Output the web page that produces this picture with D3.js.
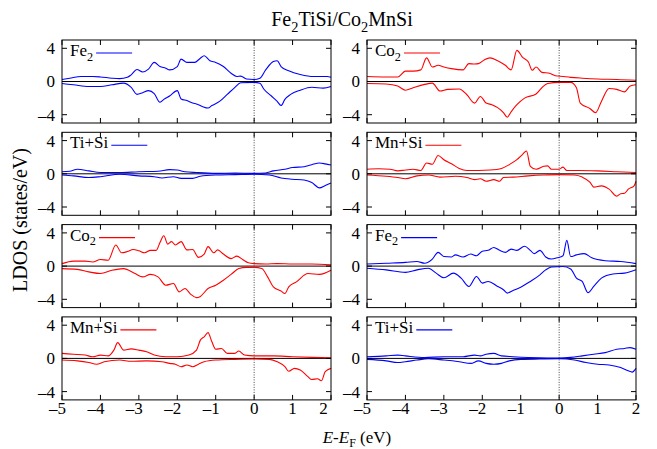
<!DOCTYPE html>
<html><head><meta charset="utf-8">
<script src="https://cdn.jsdelivr.net/npm/d3@7"></script>
<style>body{margin:0;background:#fff}svg{display:block}</style>
</head><body><svg id="c" width="657" height="449" font-family="'Liberation Serif','Times New Roman',Times,serif"></svg>
<script>
// ---------- data (energy in eV, LDOS in states/eV) ----------
const xTicks = [-5,-4,-3,-2,-1,0,1,2];
const yTicks = [-4,0,4];

// Left column: Fe2TiSi side
const fe2L_up = [[-5,0.25],[-4.8,0.4],[-4.5,0.6],[-4.2,0.6],[-4.0,0.55],[-3.7,0.4],[-3.5,0.35],[-3.3,0.5],[-3.2,0.8],[-3.05,1.45],[-2.9,1.15],[-2.75,1.5],[-2.6,2.3],[-2.45,1.8],[-2.3,1.6],[-2.2,1.4],[-2.0,1.8],[-1.9,2.7],[-1.75,2.3],[-1.55,2.3],[-1.4,2.8],[-1.3,3.1],[-1.15,2.5],[-1.0,2.3],[-0.8,1.8],[-0.6,1.0],[-0.45,0.6],[-0.35,0.65],[-0.2,0.3],[0,0.25],[0.15,0.4],[0.3,1.4],[0.5,2.4],[0.6,2.5],[0.7,1.8],[0.9,1.3],[1.2,0.85],[1.55,0.6],[1.9,0.6],[2.0,0.5]];
const fe2L_dn = [[-5,-0.25],[-4.7,-0.4],[-4.3,-0.6],[-4.0,-0.6],[-3.7,-0.4],[-3.4,-0.2],[-3.2,-0.7],[-3.05,-1.55],[-2.9,-1.35],[-2.75,-1.1],[-2.6,-1.45],[-2.45,-2.5],[-2.35,-2.15],[-2.2,-1.75],[-2.0,-1.1],[-1.9,-2.1],[-1.75,-2.3],[-1.6,-2.6],[-1.5,-2.7],[-1.35,-3.0],[-1.2,-3.2],[-1.1,-2.9],[-0.9,-2.4],[-0.7,-1.55],[-0.5,-0.7],[-0.35,-0.15],[0,-0.1],[0.15,-0.2],[0.25,-0.9],[0.45,-1.75],[0.6,-2.4],[0.7,-2.9],[0.8,-2.15],[0.95,-1.55],[1.2,-1.05],[1.5,-0.7],[1.8,-0.8],[2.0,-0.6]];

const tisiL_up = [[-5,0.25],[-4.8,0.3],[-4.6,0.55],[-4.3,0.35],[-4.0,0.15],[-3.5,0.15],[-3.0,0.25],[-2.5,0.3],[-2.2,0.5],[-2.0,0.45],[-1.8,0.25],[-1.5,0.15],[-1.0,0.05],[-0.5,0.1],[0,0.05],[0.3,0.1],[0.5,0.35],[0.8,0.55],[1.0,0.75],[1.3,0.85],[1.5,1.1],[1.7,1.3],[1.85,1.2],[2.0,1.05]];
const tisiL_dn = [[-5,-0.15],[-4.7,-0.25],[-4.3,-0.45],[-4.0,-0.35],[-3.5,-0.05],[-3.0,-0.25],[-2.6,-0.35],[-2.4,-0.5],[-2.1,-0.35],[-1.9,-0.55],[-1.6,-0.55],[-1.4,-0.3],[-1.0,-0.15],[-0.5,-0.1],[0,-0.05],[0.4,-0.15],[0.7,-0.5],[1.0,-0.65],[1.3,-0.75],[1.5,-1.05],[1.7,-1.7],[1.85,-1.4],[2.0,-1.1]];

const co2L_up = [[-5,0.3],[-4.7,0.6],[-4.4,0.6],[-4.2,0.5],[-4.0,0.8],[-3.8,0.7],[-3.6,2.55],[-3.45,1.6],[-3.3,1.75],[-3.15,2.0],[-3.0,1.85],[-2.85,1.6],[-2.7,1.9],[-2.55,1.9],[-2.45,2.85],[-2.35,3.65],[-2.25,2.65],[-2.15,2.95],[-2.05,2.55],[-1.9,2.95],[-1.75,1.95],[-1.6,2.0],[-1.45,1.05],[-1.3,1.45],[-1.2,2.35],[-1.05,1.6],[-0.95,1.95],[-0.8,1.45],[-0.6,0.9],[-0.45,1.2],[-0.3,0.8],[-0.15,0.4],[0,0.3],[0.3,0.25],[0.6,0.3],[1.0,0.25],[1.5,0.25],[2.0,0.15]];
const co2L_dn = [[-5,-0.3],[-4.6,-0.4],[-4.3,-0.7],[-4.0,-0.9],[-3.7,-0.5],[-3.4,-0.3],[-3.1,-0.9],[-2.9,-1.3],[-2.7,-1.0],[-2.5,-1.3],[-2.3,-2.3],[-2.1,-2.1],[-1.95,-3.1],[-1.8,-2.7],[-1.65,-3.4],[-1.5,-3.8],[-1.4,-3.65],[-1.2,-2.7],[-1.0,-2.3],[-0.8,-1.7],[-0.6,-1.0],[-0.4,-0.3],[-0.2,-0.15],[0,-0.15],[0.2,-0.3],[0.35,-1.3],[0.5,-2.5],[0.7,-3.0],[0.8,-3.3],[0.9,-2.5],[1.1,-1.9],[1.4,-0.9],[1.7,-1.0],[2.0,-0.5]];

const mnsiL_up = [[-5,0.6],[-4.7,0.5],[-4.4,0.4],[-4.2,0.2],[-4.0,0.4],[-3.8,0.3],[-3.65,1.0],[-3.55,1.9],[-3.4,1.0],[-3.2,1.15],[-3.0,1.0],[-2.8,0.8],[-2.6,0.4],[-2.3,0.2],[-2.0,0.2],[-1.7,0.4],[-1.5,1.0],[-1.4,2.2],[-1.3,2.6],[-1.2,3.1],[-1.1,2.0],[-1.0,1.1],[-0.85,1.2],[-0.7,0.6],[-0.5,0.6],[-0.4,0.9],[-0.25,0.4],[0,0.3],[0.5,0.3],[1.0,0.2],[1.5,0.12],[2.0,0.08]];
const mnsiL_dn = [[-5,-0.2],[-4.6,-0.3],[-4.3,-0.5],[-4.1,-0.7],[-3.9,-0.4],[-3.5,-0.2],[-3.2,-0.35],[-2.8,-0.3],[-2.4,-0.4],[-2.2,-0.6],[-2.05,-0.7],[-1.9,-1.0],[-1.75,-0.8],[-1.6,-1.0],[-1.45,-0.7],[-1.3,-0.4],[-1.0,-0.2],[-0.5,-0.12],[0,-0.08],[0.4,-0.12],[0.6,-0.4],[0.8,-1.0],[0.9,-1.55],[1.05,-1.2],[1.2,-1.4],[1.4,-2.2],[1.5,-2.55],[1.65,-2.45],[1.75,-2.7],[1.85,-1.6],[2.0,-1.2]];

// Right column: Co2MnSi side
const co2R_up = [[-5,0.6],[-4.5,0.55],[-4.2,0.55],[-4.0,1.25],[-3.8,1.25],[-3.6,1.4],[-3.45,2.85],[-3.3,1.75],[-3.15,1.95],[-3.0,1.75],[-2.8,1.55],[-2.5,1.4],[-2.35,2.15],[-2.2,2.1],[-2.1,2.15],[-1.95,2.6],[-1.8,2.85],[-1.6,2.5],[-1.4,1.95],[-1.25,1.4],[-1.1,3.75],[-0.95,2.9],[-0.8,2.35],[-0.7,1.35],[-0.6,1.75],[-0.45,1.1],[-0.25,1.0],[-0.1,0.7],[0.1,0.6],[0.3,0.5],[0.6,0.4],[1.0,0.3],[1.5,0.25],[2.0,0.15]];
const co2R_dn = [[-5,-0.25],[-4.5,-0.3],[-4.2,-0.55],[-4.0,-1.05],[-3.8,-0.75],[-3.5,-0.35],[-3.3,-0.2],[-3.1,-1.15],[-2.9,-0.95],[-2.6,-0.9],[-2.4,-1.6],[-2.2,-2.6],[-2.05,-1.8],[-1.9,-2.6],[-1.75,-2.8],[-1.6,-3.15],[-1.45,-3.75],[-1.35,-4.3],[-1.25,-3.65],[-1.1,-2.8],[-0.9,-2.0],[-0.6,-1.5],[-0.45,-0.75],[-0.3,-0.25],[0,-0.1],[0.3,-0.1],[0.45,-0.75],[0.55,-2.6],[0.8,-3.25],[0.95,-3.75],[1.1,-2.4],[1.3,-0.85],[1.5,-0.95],[1.7,-1.25],[1.85,-0.55],[2.0,-0.4]];

const mnsiR_up = [[-5,0.55],[-4.7,0.6],[-4.4,0.55],[-4.2,0.35],[-4.0,0.45],[-3.8,0.55],[-3.6,0.4],[-3.45,1.3],[-3.3,1.15],[-3.15,2.2],[-3.0,1.7],[-2.8,1.2],[-2.6,0.65],[-2.4,0.4],[-2.1,0.4],[-1.8,0.45],[-1.5,0.65],[-1.3,1.1],[-1.1,1.7],[-0.95,2.35],[-0.85,2.75],[-0.75,0.9],[-0.6,0.55],[-0.4,0.9],[-0.3,0.95],[-0.2,0.55],[0,0.55],[0.1,0.8],[0.2,0.4],[0.5,0.4],[1.0,0.35],[1.5,0.25],[2.0,0.15]];
const mnsiR_dn = [[-5,-0.15],[-4.5,-0.3],[-4.2,-0.45],[-4.0,-0.6],[-3.7,-0.25],[-3.4,-0.15],[-3.1,-0.4],[-2.7,-0.3],[-2.4,-0.45],[-2.2,-0.7],[-2.05,-0.6],[-1.9,-0.9],[-1.7,-0.7],[-1.55,-0.9],[-1.45,-0.45],[-1.2,-0.4],[-0.8,-0.25],[-0.4,-0.15],[0,-0.1],[0.4,-0.15],[0.6,-0.4],[0.8,-1.0],[0.9,-1.6],[1.1,-1.45],[1.3,-1.85],[1.5,-2.7],[1.6,-2.4],[1.7,-2.35],[1.8,-1.85],[1.95,-1.45],[2.0,-0.9]];

const fe2R_up = [[-5,0.25],[-4.5,0.35],[-4.0,0.45],[-3.7,0.55],[-3.5,0.35],[-3.3,0.85],[-3.15,1.65],[-3.0,1.15],[-2.8,1.1],[-2.7,1.35],[-2.5,1.1],[-2.3,1.45],[-2.15,1.25],[-2.0,1.8],[-1.85,1.9],[-1.7,2.25],[-1.55,1.9],[-1.4,1.65],[-1.25,2.05],[-1.1,1.9],[-0.9,2.4],[-0.75,1.9],[-0.65,1.5],[-0.5,1.9],[-0.35,1.1],[-0.2,0.85],[-0.05,1.0],[0.1,1.25],[0.2,3.1],[0.3,1.15],[0.45,1.35],[0.65,1.5],[0.85,1.0],[1.2,0.65],[1.6,0.55],[2.0,0.3]];
const fe2R_dn = [[-5,-0.25],[-4.5,-0.45],[-4.0,-0.75],[-3.7,-0.45],[-3.4,-0.25],[-3.2,-0.85],[-3.0,-1.4],[-2.75,-0.85],[-2.55,-1.45],[-2.35,-2.45],[-2.15,-1.25],[-2.0,-2.05],[-1.85,-1.85],[-1.6,-2.45],[-1.45,-2.85],[-1.35,-3.25],[-1.2,-2.95],[-1.0,-2.55],[-0.75,-1.85],[-0.5,-1.05],[-0.35,-0.45],[-0.2,-0.1],[0.1,-0.05],[0.3,-0.35],[0.45,-1.45],[0.6,-1.85],[0.75,-3.2],[0.9,-2.45],[1.1,-1.45],[1.4,-0.95],[1.7,-0.85],[2.0,-0.45]];

const tisiR_up = [[-5,0.2],[-4.5,0.3],[-4.2,0.4],[-4.0,0.3],[-3.5,0.1],[-3.0,0.2],[-2.5,0.2],[-2.2,0.4],[-2.05,0.3],[-1.9,0.5],[-1.7,0.6],[-1.5,0.3],[-1.2,0.2],[-0.8,0.1],[-0.3,0.05],[0,0.05],[0.3,0.12],[0.6,0.3],[0.9,0.5],[1.2,0.7],[1.5,1.1],[1.7,1.2],[1.85,1.3],[2.0,1.1]];
const tisiR_dn = [[-5,-0.12],[-4.5,-0.3],[-4.2,-0.5],[-4.0,-0.4],[-3.7,-0.2],[-3.4,-0.05],[-3.0,-0.2],[-2.6,-0.4],[-2.3,-0.6],[-2.1,-0.3],[-1.9,-0.6],[-1.7,-0.7],[-1.5,-0.6],[-1.3,-0.3],[-1.0,-0.12],[-0.5,-0.08],[0,-0.05],[0.4,-0.2],[0.7,-0.5],[1.0,-0.7],[1.3,-0.8],[1.6,-1.1],[1.8,-1.5],[1.9,-1.65],[2.0,-1.2]];

const title = [["Fe",0],["2",1],["TiSi/Co",0],["2",1],["MnSi",0]];
const yLabel = "LDOS (states/eV)";

// panel table built from the arrays above
const panels = [
  {col:0,row:0,name:[["Fe",0],["2",1]],color:"#0000ff",up:fe2L_up,dn:fe2L_dn},
  {col:0,row:1,name:[["Ti+Si",0]],color:"#0000ff",up:tisiL_up,dn:tisiL_dn},
  {col:0,row:2,name:[["Co",0],["2",1]],color:"#ff0000",up:co2L_up,dn:co2L_dn},
  {col:0,row:3,name:[["Mn+Si",0]],color:"#ff0000",up:mnsiL_up,dn:mnsiL_dn},
  {col:1,row:0,name:[["Co",0],["2",1]],color:"#ff0000",up:co2R_up,dn:co2R_dn},
  {col:1,row:1,name:[["Mn+Si",0]],color:"#ff0000",up:mnsiR_up,dn:mnsiR_dn},
  {col:1,row:2,name:[["Fe",0],["2",1]],color:"#0000ff",up:fe2R_up,dn:fe2R_dn},
  {col:1,row:3,name:[["Ti+Si",0]],color:"#0000ff",up:tisiR_up,dn:tisiR_dn}
];

// ---------- layout ----------
const colX = [62, 367], pw = 269;
const rowY = [40, 132.3, 224.6, 316.9], ph = 83;
const svg = d3.select("#c");

function addRich(sel, parts, fs){
  parts.forEach(([t,sub],i)=>{
    const ts = sel.append("tspan").text(t);
    if(sub){ ts.attr("font-size", fs*0.72).attr("dy", fs*0.28); }
    else if(i>0 && parts[i-1][1]){ ts.attr("dy", -fs*0.28); }
  });
}

panels.forEach(p=>{
  const x0 = colX[p.col], y0 = rowY[p.row];
  const sx = d3.scaleLinear().domain([-5,2]).range([x0, x0+pw]);
  const sy = d3.scaleLinear().domain([-5,5]).range([y0+ph, y0]);
  const g = svg.append("g");

  g.append("line").attr("x1",x0).attr("x2",x0+pw).attr("y1",sy(0)).attr("y2",sy(0))
    .attr("stroke","#000").attr("stroke-width",1);
  g.append("line").attr("x1",sx(0)).attr("x2",sx(0)).attr("y1",y0).attr("y2",y0+ph)
    .attr("stroke","#444").attr("stroke-width",1).attr("stroke-dasharray","1,1.5");

  const line = d3.line().x(d=>sx(d[0])).y(d=>sy(d[1])).curve(d3.curveMonotoneX);
  [p.up,p.dn].forEach(arr=>{
    g.append("path").attr("d",line(arr)).attr("fill","none")
      .attr("stroke",p.color).attr("stroke-width",1.1).attr("stroke-linejoin","round");
  });

  g.append("rect").attr("x",x0).attr("y",y0).attr("width",pw).attr("height",ph)
    .attr("fill","none").attr("stroke","#000").attr("stroke-width",1);
  xTicks.forEach(v=>{
    g.append("line").attr("x1",sx(v)).attr("x2",sx(v)).attr("y1",y0+ph).attr("y2",y0+ph-5).attr("stroke","#000");
    g.append("line").attr("x1",sx(v)).attr("x2",sx(v)).attr("y1",y0).attr("y2",y0+5).attr("stroke","#000");
  });
  yTicks.forEach(v=>{
    g.append("line").attr("x1",x0).attr("x2",x0+5).attr("y1",sy(v)).attr("y2",sy(v)).attr("stroke","#000");
    g.append("line").attr("x1",x0+pw).attr("x2",x0+pw-5).attr("y1",sy(v)).attr("y2",sy(v)).attr("stroke","#000");
    g.append("text").attr("x",x0-7).attr("y",sy(v)).attr("dy","0.35em")
      .attr("text-anchor","end").attr("font-size",17)
      .text(v<0 ? "\u2013"+Math.abs(v) : String(v));
  });
  if(p.row===3){
    xTicks.forEach(v=>{
      let x = sx(v);
      if(v<0) x -= 4.5;
      if(v===2 && p.col===0) x -= 7.5;
      g.append("text").attr("x",x).attr("y",y0+ph+14).attr("text-anchor","middle")
        .attr("font-size",17).text(v<0 ? "\u2013"+Math.abs(v) : String(v));
    });
  }
  const lt = g.append("text").attr("x",x0+8).attr("y",y0+16).attr("font-size",17);
  addRich(lt, p.name, 17);
  const w = lt.node().getComputedTextLength();
  g.append("line").attr("x1",x0+8+w+3).attr("x2",x0+8+w+39).attr("y1",y0+13).attr("y2",y0+13)
    .attr("stroke",p.color).attr("stroke-width",1.1);
});

const tt = svg.append("text").attr("x",342).attr("y",26).attr("text-anchor","middle").attr("font-size",20);
addRich(tt, title, 20);

svg.append("text").attr("transform","translate(27,220) rotate(-90)").attr("text-anchor","middle")
  .attr("font-size",20).text(yLabel);

const xl = svg.append("text").attr("x",357).attr("y",443).attr("text-anchor","middle").attr("font-size",17);
xl.append("tspan").attr("font-style","italic").text("E");
xl.append("tspan").text("-");
xl.append("tspan").attr("font-style","italic").text("E");
xl.append("tspan").attr("font-size",12).attr("dy",4).text("F");
xl.append("tspan").attr("dy",-4).text(" (eV)");
</script></body></html>
